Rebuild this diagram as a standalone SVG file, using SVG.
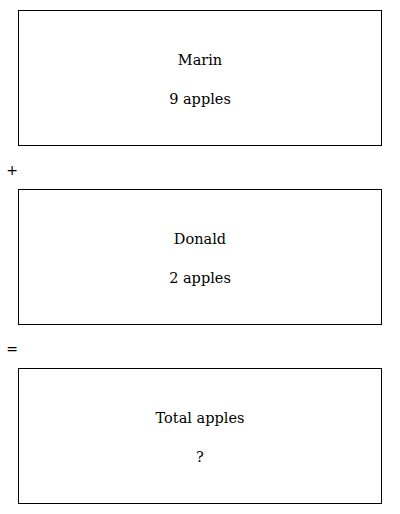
<svg xmlns="http://www.w3.org/2000/svg" width="400" height="514" viewBox="0 0 400 514">
<style>
.box{fill:#fff;stroke:#000;stroke-width:1}
.t{font-family:"DejaVu Serif",serif;font-size:14.5px;text-anchor:middle;fill:#000}
.op{font-family:"DejaVu Sans",sans-serif;font-size:14px;text-anchor:middle;fill:#000}
</style>
<rect width="400" height="514" fill="#fff"/>
<g id="marin">
<rect class="box" x="18.5" y="10.5" width="363" height="135"/>
<text class="t" x="200" y="65">Marin</text>
<text class="t" x="200" y="104">9 apples</text>
</g>
<g id="plus"><text class="op" x="12" y="175">+</text></g>
<g id="donald">
<rect class="box" x="18.5" y="189.5" width="363" height="135"/>
<text class="t" x="200" y="244">Donald</text>
<text class="t" x="200" y="283">2 apples</text>
</g>
<g id="equals"><text class="op" x="12" y="354">=</text></g>
<g id="total">
<rect class="box" x="18.5" y="368.5" width="363" height="135"/>
<text class="t" x="200" y="423">Total apples</text>
<text class="t" x="200" y="462">?</text>
</g>
<g id="connectors"/>
</svg>
